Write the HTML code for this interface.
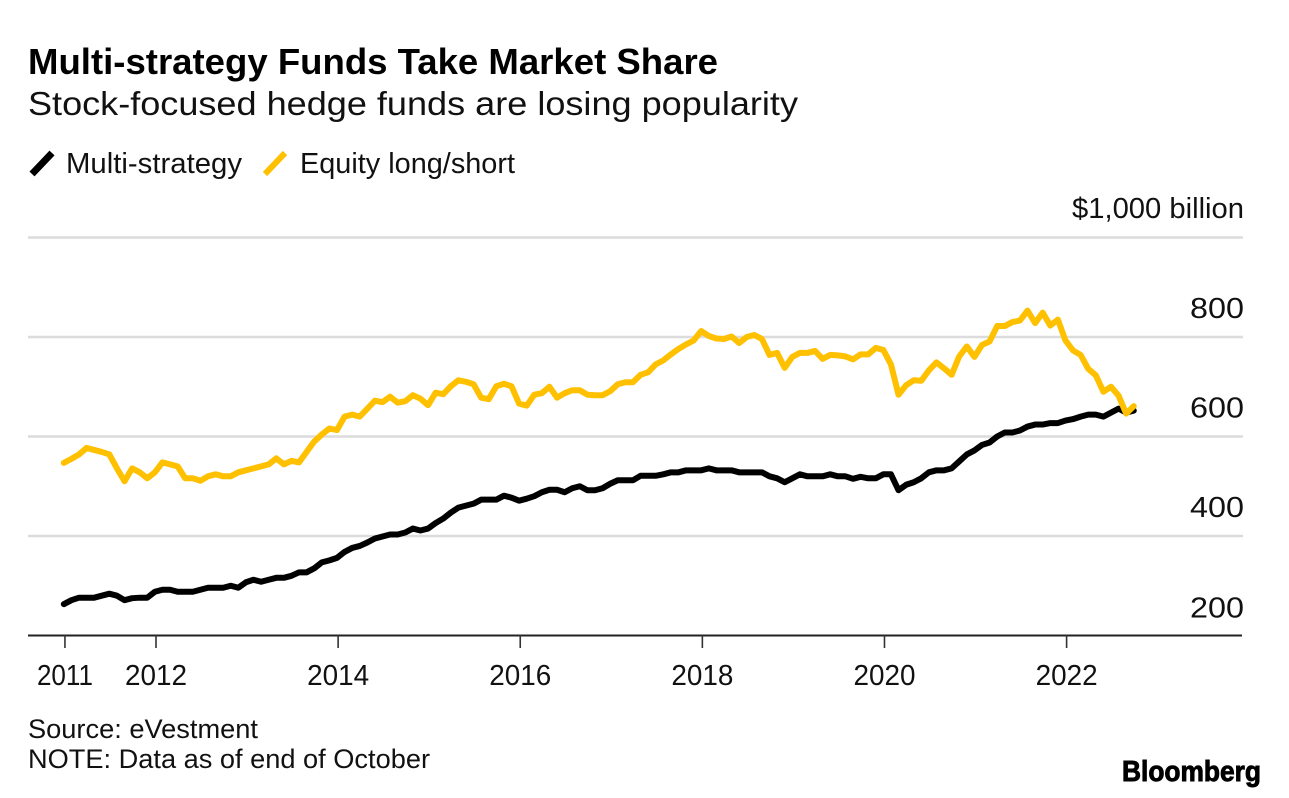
<!DOCTYPE html>
<html lang="en">
<head>
<meta charset="utf-8">
<title>Multi-strategy Funds Take Market Share</title>
<style>
html,body{margin:0;padding:0;background:#fff;width:1289px;height:798px;overflow:hidden}
svg{display:block}
text{font-family:"Liberation Sans",sans-serif;fill:#111}
</style>
</head>
<body>
<svg id="chart" width="1289" height="798" viewBox="0 0 1289 798" xmlns="http://www.w3.org/2000/svg">
  <text x="28" y="74" font-size="36" font-weight="700" textLength="690" lengthAdjust="spacingAndGlyphs" style="fill:#000">Multi-strategy Funds Take Market Share</text>
  <text x="28" y="115" font-size="33" textLength="770" lengthAdjust="spacingAndGlyphs">Stock-focused hedge funds are losing popularity</text>

  <g>
    <line x1="32" y1="174" x2="52" y2="153" stroke="#000" stroke-width="7"/>
    <text x="66" y="173" font-size="28.5" textLength="176" lengthAdjust="spacingAndGlyphs">Multi-strategy</text>
    <line x1="265" y1="174" x2="285" y2="153" stroke="#ffc000" stroke-width="6"/>
    <text x="300" y="173" font-size="28.5" textLength="215" lengthAdjust="spacingAndGlyphs">Equity long/short</text>
  </g>

  <text x="1072" y="218" font-size="28.5" textLength="172" lengthAdjust="spacingAndGlyphs">$1,000 billion</text>

  <g id="grid"></g>
  <g id="yLabels"></g>
  <g id="xAxis"></g>
  <g id="series"></g>

  <text x="28" y="738" font-size="27" textLength="230" lengthAdjust="spacingAndGlyphs">Source: eVestment</text>
  <text x="28" y="768" font-size="27" textLength="402" lengthAdjust="spacingAndGlyphs">NOTE: Data as of end of October</text>
  <text x="1122" y="781" font-size="29" font-weight="700" textLength="139" lengthAdjust="spacingAndGlyphs" style="fill:#000;stroke:#000;stroke-width:.9">Bloomberg</text>
</svg>

<script>
const startYear = 2011;
const yTicks = [1000, 800, 600, 400];
const yTickLabels = ['', '800', '600', '400'];
const baselineValue = 200;
const baselineLabel = '200';
const xTicks = [2011, 2012, 2014, 2016, 2018, 2020, 2022];
const xTickLabels = ['2011', '2012', '2014', '2016', '2018', '2020', '2022'];

const multiStrategy = [
  263,271,276,276,276,280,284,280,271,275,276,276,288,292,292,288,288,288,292,296,
  296,296,300,296,307,312,308,312,316,316,320,327,327,335,347,351,356,368,376,380,
  387,395,399,403,403,407,415,411,415,426,
  435,447,457,461,465,473,473,473,481,477,471,475,480,488,493,493,488,496,500,492,
  492,496,505,512,512,512,521,521,521,524,528,528,532,532,532,536,532,532,532,528,
  528,528,528,520,516,508,516,524,520,520,520,524,520,
  520,515,519,516,516,524,524,492,503,508,516,528,532,532,536,550,564,572,583,588,
  600,608,608,612,620,624,624,627,627,632,635,640,644,644,640,648,656,648,652
];
const equityLongShort = [
  547,555,564,577,573,569,564,536,510,536,528,516,528,548,544,540,516,516,511,520,
  524,520,520,528,532,536,540,544,556,544,551,548,569,590,604,616,613,640,644,640,
  656,672,669,680,668,671,683,676,663,688,
  685,701,713,710,705,678,675,701,706,701,666,662,684,687,700,678,687,693,693,684,
  683,683,691,705,709,709,724,729,745,753,765,776,785,793,812,802,797,796,801,788,
  800,804,796,764,768,738,760,768,768,772,756,764,763,
  761,755,765,765,778,774,745,684,703,713,712,733,749,737,724,761,781,760,784,791,
  822,822,830,833,853,828,849,823,835,793,773,764,736,723,690,700,682,646,661
];

const NS = 'http://www.w3.org/2000/svg';

function xScale(year) {
  return 156 + (year - 2012) * 91.06;
}
function yScale(value) {
  return 635.5 - (value - baselineValue) * 0.4975;
}
function monthToYear(index) {
  return startYear + (index - 0.15) / 12;
}
function make(tag, attrs) {
  const el = document.createElementNS(NS, tag);
  for (const key in attrs) el.setAttribute(key, attrs[key]);
  return el;
}

const grid = document.getElementById('grid');
const yLabels = document.getElementById('yLabels');
const xAxis = document.getElementById('xAxis');
const series = document.getElementById('series');

yTicks.forEach(function (tick, i) {
  const gridline = make('line', {x1: 28, x2: 1243, y1: yScale(tick), y2: yScale(tick), stroke: '#dcdcdc', 'stroke-width': 2.4});
  
  
  grid.appendChild(gridline);
  if (yTickLabels[i]) {
    const label = make('text', {x: 1244, y: yScale(tick) - 19, 'text-anchor': 'end', 'font-size': 29, textLength: 54, lengthAdjust: 'spacingAndGlyphs'});
    
    
    label.textContent = yTickLabels[i];
    yLabels.appendChild(label);
  }
});

const baseLabel = make('text', {x: 1244, y: yScale(baselineValue) - 18, 'text-anchor': 'end', 'font-size': 29, textLength: 54, lengthAdjust: 'spacingAndGlyphs'});


baseLabel.textContent = baselineLabel;
yLabels.appendChild(baseLabel);

const baseline = make('line', {x1: 28, x2: 1242, y1: yScale(baselineValue), y2: yScale(baselineValue), stroke: '#222', 'stroke-width': 2});


xAxis.appendChild(baseline);

xTicks.forEach(function (year, i) {
  const x = xScale(year);
  const tick = make('line', {x1: x, x2: x, y1: 635, y2: 648, stroke: '#333', 'stroke-width': 1.6});
  
  
  xAxis.appendChild(tick);
  const text = make('text', {x: x, y: 685, 'text-anchor': 'middle', 'font-size': 29, textLength: xTickLabels[i] === '2011' ? 56 : 62, lengthAdjust: 'spacingAndGlyphs'});
  
  
  text.textContent = xTickLabels[i];
  xAxis.appendChild(text);
});

function linePoints(values) {
  return values.map(function (value, i) {
    return xScale(monthToYear(i)).toFixed(2) + ',' + yScale(value).toFixed(2);
  }).join(' ');
}

const blackLine = make('polyline', {points: linePoints(multiStrategy), fill: 'none', stroke: '#000', 'stroke-width': 6, 'stroke-linejoin': 'round', 'stroke-linecap': 'round'});


series.appendChild(blackLine);

const yellowLine = make('polyline', {points: linePoints(equityLongShort), fill: 'none', stroke: '#ffc000', 'stroke-width': 6, 'stroke-linejoin': 'round', 'stroke-linecap': 'round'});


series.appendChild(yellowLine);
</script>
</body>
</html>
